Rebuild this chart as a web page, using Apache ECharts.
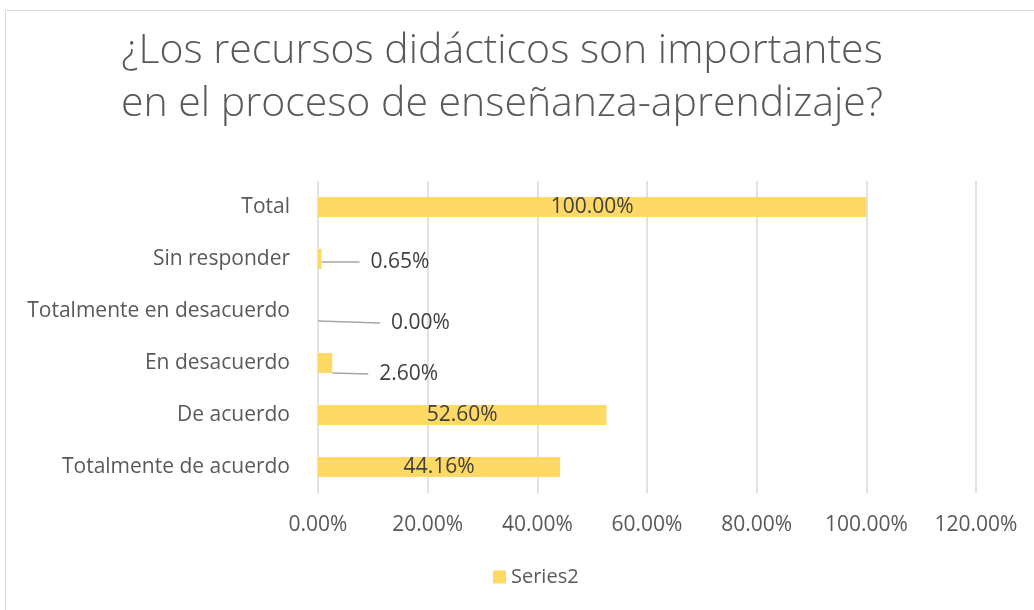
<!DOCTYPE html>
<html><head><meta charset="utf-8">
<script src="https://cdn.jsdelivr.net/npm/echarts@6/dist/echarts.min.js"></script>
<style>html,body{margin:0;padding:0;background:#fff}#c{width:1034px;height:610px}
#frame{position:absolute;left:5px;top:10px;width:1040px;height:620px;border:1px solid #d9d9d9;pointer-events:none}</style>
</head><body><div id="c"></div><div id="frame"></div>
<script>
const titleLines = ['¿Los recursos didácticos son importantes', 'en el proceso de enseñanza-aprendizaje?'];
const categories = ['Totalmente de acuerdo', 'De acuerdo', 'En desacuerdo', 'Totalmente en desacuerdo', 'Sin responder', 'Total'];
const values = [44.16, 52.60, 2.60, 0.00, 0.65, 100.00];
const seriesName = 'Series2';
const xTicks = [0, 20, 40, 60, 80, 100, 120];

const FONT = 'Open Sans';
const chart = echarts.init(document.getElementById('c'), null, {renderer: 'canvas'});
const outside = {2: [31, 11], 3: [57, 12], 4: [33, 3]};
chart.setOption({
  animation: false,
  title: {
    text: titleLines.join('\n'), left: 497, textAlign: 'center', top: 20,
    textStyle: {fontFamily: FONT, fontWeight: 300, fontSize: 41, color: '#595959', lineHeight: 53}
  },
  legend: {
    bottom: 18, left: 488, itemWidth: 13, itemHeight: 13, itemGap: 5, icon: 'rect',
    textStyle: {fontFamily: FONT, fontSize: 20, color: '#595959'}
  },
  grid: {left: 318, right: 58, top: 181, bottom: 117},
  xAxis: {
    type: 'value', min: xTicks[0], max: xTicks[xTicks.length - 1], interval: 20,
    axisLine: {show: false}, axisTick: {show: false},
    splitLine: {lineStyle: {color: '#d9d9d9', width: 1.5}},
    axisLabel: {margin: 22, fontFamily: FONT, fontSize: 21, color: '#595959', formatter: v => v.toFixed(2) + '%'}
  },
  yAxis: {
    type: 'category', data: categories,
    axisLine: {show: false}, axisTick: {show: false},
    axisLabel: {margin: 28, fontFamily: FONT, fontSize: 21, color: '#595959'}
  },
  series: [{
    name: seriesName, type: 'bar',
    data: values.map((v, i) => outside[i] ? {value: v, label: {position: 'right', formatter: p => '  ' + p.value.toFixed(2) + '%'}} : v),
    barWidth: 20, itemStyle: {color: '#FFD966'},
    label: {show: true, position: 'inside', fontFamily: FONT, fontSize: 21, color: '#404040',
      formatter: p => p.value.toFixed(2) + '%'},
    labelLine: {show: true, lineStyle: {color: '#a6a6a6', width: 1.5}},
    labelLayout: p => outside[p.dataIndex] ? {dx: outside[p.dataIndex][0], dy: outside[p.dataIndex][1]} : {}
  }]
});
</script></body></html>
